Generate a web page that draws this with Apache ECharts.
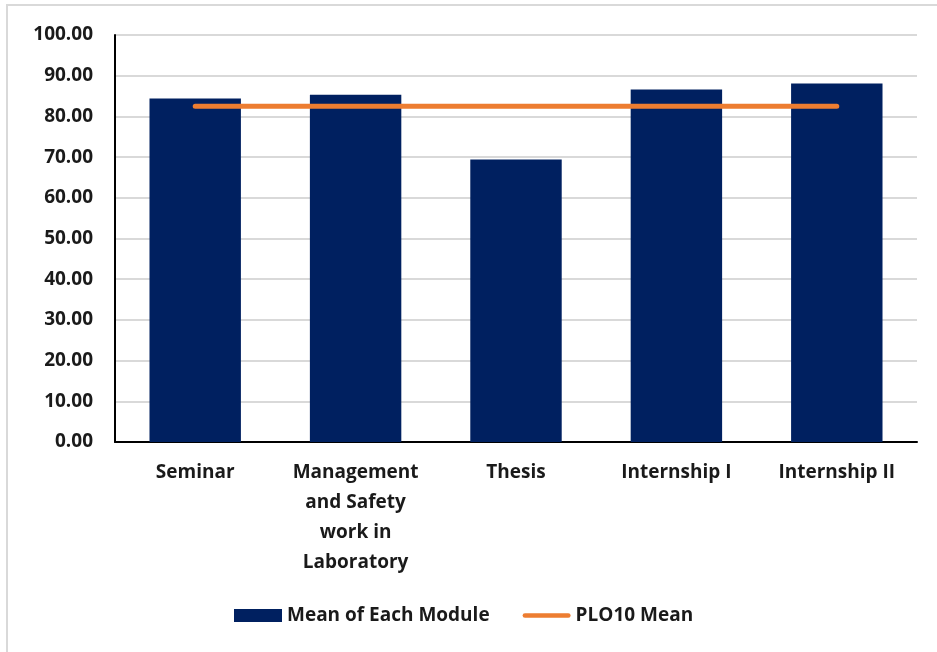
<!DOCTYPE html>
<html>
<head>
<meta charset="utf-8">
<script src="https://cdn.jsdelivr.net/npm/echarts@6/dist/echarts.min.js"></script>
<style>
html,body{margin:0;padding:0;background:#fff;}
#frame{position:absolute;left:6px;top:4px;width:931px;height:648px;border-top:2px solid #d9d9d9;border-left:2px solid #d9d9d9;box-sizing:border-box;}
#chart{position:absolute;left:0;top:0;width:937px;height:652px;}
</style>
</head>
<body>
<div id="frame"></div>
<div id="chart"></div>
<script>
const categories = ['Seminar', 'Management\nand Safety\nwork in\nLaboratory', 'Thesis', 'Internship I', 'Internship II'];
const moduleMeans = [84.4, 85.3, 69.4, 86.6, 88.1];
const ploMean = [82.5, 82.5, 82.5, 82.5, 82.5];
const yTicks = { min: 0, max: 100, interval: 10 };

const font = '"Open Sans", Lato, sans-serif';
const chart = echarts.init(document.getElementById('chart'), null, { renderer: 'canvas' });
chart.setOption({
  animation: false,
  grid: { left: 115, right: 20, top: 35, bottom: 210, containLabel: false },
  legend: {
    bottom: 22,
    left: 229,
    itemWidth: 48,
    itemHeight: 13,
    itemGap: 33,
    symbolKeepAspect: true,
    textStyle: { fontFamily: font, fontWeight: 'bold', fontSize: 19, color: '#1a1a1a' },
    data: [
      { name: 'Mean of Each Module', icon: 'rect' },
      { name: 'PLO10 Mean', icon: 'path://M2.5,0 L49.5,0 A2.5,2.5 0 0 1 49.5,5 L2.5,5 A2.5,2.5 0 0 1 2.5,0 Z' }
    ]
  },
  xAxis: {
    type: 'category',
    data: categories,
    axisLine: { show: true, lineStyle: { color: '#000', width: 2 } },
    axisTick: { show: false },
    axisLabel: {
      interval: 0,
      margin: 16,
      fontFamily: font, fontWeight: 'bold', fontSize: 19, color: '#1a1a1a',
      lineHeight: 30
    }
  },
  yAxis: {
    type: 'value',
    min: yTicks.min, max: yTicks.max, interval: yTicks.interval,
    axisLine: { show: true, lineStyle: { color: '#000', width: 2 } },
    axisTick: { show: false },
    splitLine: { lineStyle: { color: '#d9d9d9', width: 2 } },
    axisLabel: {
      margin: 22,
      formatter: v => v.toFixed(2),
      fontFamily: font, fontWeight: 'bold', fontSize: 19, color: '#1a1a1a'
    }
  },
  series: [
    {
      name: 'Mean of Each Module',
      type: 'bar',
      data: moduleMeans,
      barCategoryGap: '43%',
      itemStyle: { color: '#002060' }
    },
    {
      name: 'PLO10 Mean',
      type: 'line',
      data: ploMean,
      symbol: 'none',
      showSymbol: false,
      lineStyle: { color: '#ed7d31', width: 5, cap: 'round' },
      itemStyle: { color: '#ed7d31' }
    }
  ]
});
</script>
</body>
</html>
